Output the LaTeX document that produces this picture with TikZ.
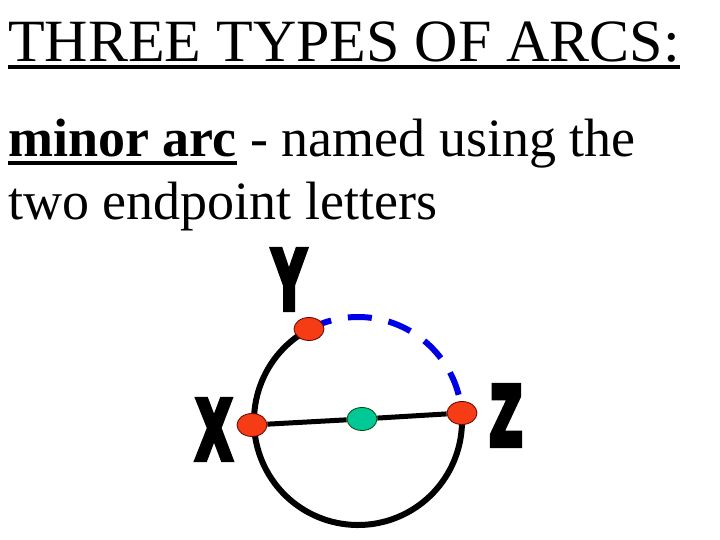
\documentclass[tikz,border=0pt]{standalone}
\usepackage{fontspec}
\setmainfont{Liberation Serif}
\newfontfamily\letterfont{Liberation Sans}
\usetikzlibrary{shapes.geometric}
\definecolor{ptred}{RGB}{245,60,20}
\definecolor{ctrgreen}{RGB}{0,200,150}
\definecolor{arcblue}{RGB}{0,0,230}
% outlined glyphs for the heavy point letters
\newcommand\heavy[1]{\special{pdf:literal 2 Tr 8 w 0 j}#1\special{pdf:literal 0 Tr}}
\begin{document}
\begin{tikzpicture}[x=1pt, y=1pt,
        txt/.style={inner sep=0pt, anchor=base west, font=\fontsize{54}{60}\selectfont},
        lbl/.style={inner sep=0pt, xscale=0.6, font=\letterfont\bfseries\fontsize{83}{83}\selectfont},
        endpt/.style={ellipse, draw=black!60!red, line width=0.8pt, fill=ptred,
            minimum width=30pt, minimum height=23pt, inner sep=0pt},
        ctr/.style={endpt, fill=ctrgreen, draw=black!70!green}]
    \useasboundingbox (0,0) rectangle (720,540);
    % heading and text
    \node[txt, font=\fontsize{60}{66}\selectfont] (title) at (8,478) {THREE TYPES OF ARCS:};
    \draw[line width=4pt] ([yshift=-5.5pt]title.base west) -- ([yshift=-5.5pt]title.base east);
    \node[txt, font=\fontsize{54}{60}\selectfont\bfseries] (minor) at (8,383) {minor arc};
    \node[txt] (rest) at (minor.base east) {\ - named using the};
    \draw[line width=4pt] ([yshift=-6pt]minor.base west) -- ([yshift=-6pt]minor.base east);
    \node[txt] (line3) at (8,320) {two endpoint letters};
    % circle
    \coordinate (O) at (358,119);
    \draw[line width=6pt] (O) ++(118:104) arc[start angle=118, end angle=364.4, radius=104pt];
    \draw[arcblue, line width=6pt, dash pattern=on 24pt off 17pt]
        (O) ++(14.6:104) arc[start angle=14.6, end angle=118, radius=104pt];
    \node[endpt] (x) at (252,115) {};
    \node[endpt] (y) at (309,211) {};
    \node[endpt] (z) at (462,127) {};
    \node[ctr] (c) at (362,121) {};
    \draw[line width=5pt] (x) -- (c) -- (z);
    % letters
    \node[lbl] (xl) at (214,110.5) {\heavy{X}};
    \node[lbl] (yl) at (289,260.5) {\heavy{Y}};
    \node[lbl] (zl) at (506,124.5) {\heavy{Z}};
\end{tikzpicture}
\end{document}
